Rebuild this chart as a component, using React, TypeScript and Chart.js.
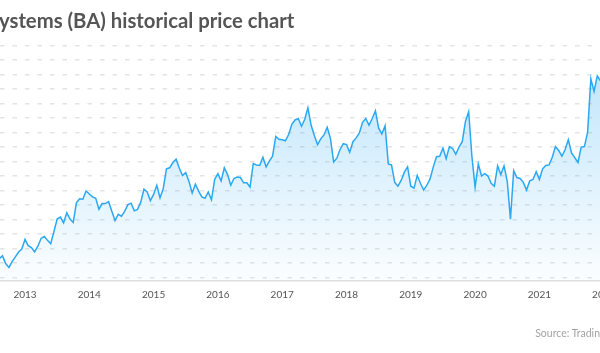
import React, { useEffect, useRef } from 'react';
import { Chart, registerables } from 'chart.js';

Chart.register(...registerables);

const TITLE = 'ystems (BA) historical price chart';
const SOURCE = 'Source: Tradin';

// semi-monthly samples (every 0.05 year), price in pence
const START_YEAR = 2012.6;
const STEP_YEARS = 0.05;
const prices = [
  309, 315, 299, 291, 303, 313, 323, 329, 349, 336,
  332, 323, 335, 351, 355, 347, 340, 365, 391, 395,
  383, 404, 391, 384, 425, 433, 432, 449, 443, 437,
  434, 411, 423, 423, 427, 407, 388, 401, 397, 407,
  421, 424, 408, 411, 426, 453, 447, 429, 442, 461,
  435, 454, 495, 497, 508, 515, 496, 481, 487, 469,
  445, 463, 449, 437, 434, 447, 431, 473, 485, 470,
  497, 483, 461, 475, 478, 477, 466, 466, 457, 506,
  503, 502, 519, 499, 511, 521, 562, 556, 555, 553,
  566, 587, 596, 599, 583, 597, 621, 585, 564, 545,
  557, 565, 581, 558, 509, 517, 535, 547, 545, 529,
  551, 559, 569, 591, 599, 585, 599, 615, 579, 567,
  584, 505, 503, 467, 459, 471, 488, 499, 459, 455,
  481, 465, 451, 461, 474, 499, 520, 521, 538, 516,
  541, 537, 525, 540, 551, 593, 613, 521, 457, 505,
  480, 485, 480, 465, 459, 501, 483, 501, 469, 391,
  491, 477, 475, 467, 451, 470, 473, 489, 473, 495,
  502, 503, 519, 541, 533, 521, 535, 555, 528, 518,
  508, 540, 541, 571, 681, 655, 687, 677,
];

const yearTicks = [2013, 2014, 2015, 2016, 2017, 2018, 2019, 2020, 2021, 2022];
const priceGrid = [270, 300, 330, 360, 390, 420, 450, 480, 510, 540, 570, 600, 630, 660, 690, 720, 750];

const X_MIN = 2012.6112;
const X_MAX = 2022.2535;
const Y_MIN = 264;
const Y_MAX = 750;

export default function App() {
  const ref = useRef<HTMLCanvasElement>(null);

  useEffect(() => {
    document.body.style.margin = '0';
    const canvas = ref.current;
    if (!canvas) return;
    const chart = new Chart(canvas, {
      type: 'line',
      data: {
        datasets: [
          {
            data: prices.map((p, i) => ({ x: START_YEAR + i * STEP_YEARS, y: p })),
            borderColor: '#2aa8f2',
            borderWidth: 1.5,
            pointRadius: 0,
            tension: 0,
            fill: 'start',
            backgroundColor: (ctx: any) => {
              const c = ctx.chart;
              const area = c.chartArea;
              if (!area) return 'rgba(42,168,242,0.15)';
              const g = c.ctx.createLinearGradient(0, area.top, 0, area.bottom);
              g.addColorStop(0, 'rgba(42,168,242,0.32)');
              g.addColorStop(1, 'rgba(42,168,242,0.02)');
              return g;
            },
          },
        ],
      },
      options: {
        animation: false,
        responsive: false,
        events: [],
        layout: { padding: { left: 40, right: 40, top: 45.5, bottom: 44.5 } },
        plugins: {
          legend: { display: false },
          tooltip: { enabled: false },
          title: { display: false },
        },
        scales: {
          x: {
            type: 'linear',
            min: X_MIN,
            max: X_MAX,
            afterBuildTicks: (axis: any) => {
              axis.ticks = yearTicks.map((v) => ({ value: v }));
            },
            ticks: {
              callback: (v: any) => String(v),
              autoSkip: false,
              maxRotation: 0,
              padding: 8,
              color: '#555555',
              font: { family: 'Lato', size: 10 },
            },
            grid: { display: false, drawTicks: false },
            border: { display: true, color: '#dedede', width: 1.5 },
          },
          y: {
            type: 'linear',
            min: Y_MIN,
            max: Y_MAX,
            afterBuildTicks: (axis: any) => {
              axis.ticks = priceGrid.map((v) => ({ value: v }));
            },
            ticks: { display: false },
            grid: { color: '#e4e4e4', lineWidth: 1.5, drawTicks: false },
            border: { display: false, dash: [4.5, 8] },
          },
        },
      },
    });
    return () => chart.destroy();
  }, []);

  return (
    <div
      style={{
        position: 'fixed',
        left: 0,
        top: 0,
        width: 600,
        height: 353,
        overflow: 'hidden',
        background: '#ffffff',
      }}
    >
      <canvas
        ref={ref}
        width={700}
        height={353}
        style={{ position: 'absolute', left: -40, top: 0, width: 700, height: 353 }}
      />
      <div
        style={{
          position: 'absolute',
          left: -1,
          top: 8,
          fontFamily: 'Lato, sans-serif',
          fontWeight: 700,
          fontSize: 20.3,
          lineHeight: '24px',
          color: '#555555',
          whiteSpace: 'nowrap',
        }}
      >
        {TITLE}
      </div>
      <div
        style={{
          position: 'absolute',
          right: 0,
          top: 327,
          fontFamily: 'Lato, sans-serif',
          fontSize: 10.5,
          lineHeight: '13px',
          color: '#a3a3a3',
          whiteSpace: 'nowrap',
        }}
      >
        {SOURCE}
      </div>
    </div>
  );
}
